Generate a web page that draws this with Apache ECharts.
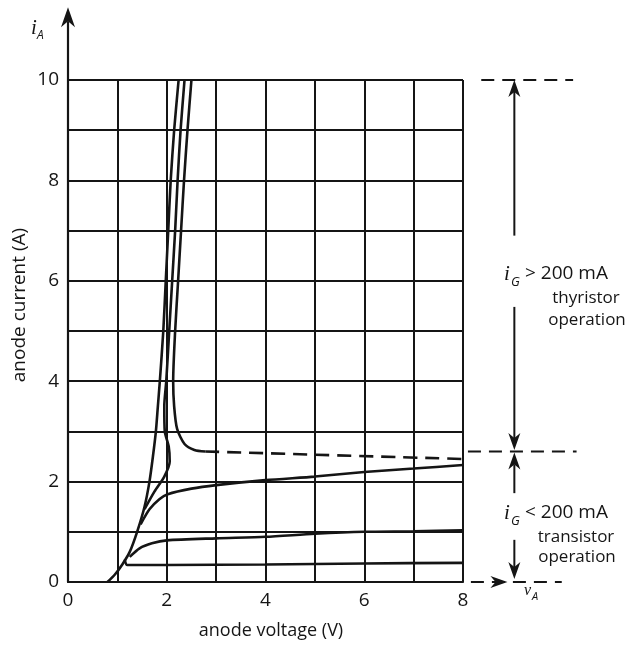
<!DOCTYPE html>
<html>
<head>
<meta charset="utf-8">
<script src="https://cdn.jsdelivr.net/npm/echarts@6/dist/echarts.min.js"></script>
<style>
html,body{margin:0;padding:0;background:#fff}
#chart{width:629px;height:646px}
</style>
</head>
<body>
<div id="chart"></div>
<script>
// anode voltage v_A (V) vs anode current i_A (A)

// thyristor branches (large gate current)
var thyLeft  = [[0.8,0],[0.95,0.15],[1.1,0.35],[1.25,0.6],[1.4,1.0],[1.55,1.5],[1.65,2.0],[1.72,2.5],[1.78,3.0],[1.82,3.5],[1.86,4],[1.93,5],[1.98,6],[2.03,7],[2.08,8],[2.15,9],[2.24,10]];
var thyMid   = [[1.55,1.45],[1.75,1.8],[1.95,2.1],[2.06,2.4],[2.04,2.7],[1.96,3.0],[1.95,3.5],[1.99,4],[2.05,5],[2.11,6],[2.17,7],[2.22,8],[2.28,9],[2.36,10]];
var thyRight = [[2.5,10],[2.42,9],[2.35,8],[2.29,7],[2.23,6],[2.17,5],[2.13,4],[2.15,3.5],[2.21,3.05],[2.36,2.75],[2.56,2.63],[2.78,2.6]];
var holding  = [[2.78,2.6],[8,2.45]];

// transistor curves (small gate current)
var tr3 = [[1.47,1.15],[1.65,1.45],[1.85,1.65],[2.02,1.75],[2.5,1.86],[3,1.93],[4,2.03],[5,2.1],[6,2.19],[7,2.26],[8,2.33]];
var tr2 = [[1.25,0.5],[1.45,0.67],[1.7,0.77],[2,0.83],[3,0.87],[4,0.9],[5,0.96],[6,1.0],[7,1.01],[8,1.03]];
var tr1 = [[1.15,0.45],[1.2,0.34],[2,0.34],[4,0.35],[6,0.37],[8,0.38]];

// reference levels drawn to the right of the plot: [v from, i, v to, i]
var levels = [[8.37,10,10.23,10],[8.1,2.6,10.3,2.6],[8.16,0,10.0,0]];
// annotation arrows: [v, i from, v, i to]
var arrows = [[9.04,6.9,9.04,10],[9.04,5.48,9.04,2.63],[9.04,1.77,9.04,2.58],[9.04,0.84,9.04,0.06],[8.62,0,8.9,0]];
var axisArrow = [[0,10,0,11.45]];

var ink = '#151515';
var font = '"Open Sans", "DejaVu Sans", sans-serif';

function curve(data, dashed){
  return {
    type: 'line', data: data, showSymbol: false, smooth: 0.25,
    lineStyle: {color: ink, width: 2.6, type: dashed ? [14, 8] : 'solid'},
    silent: true, animation: false
  };
}

// straight segments, with or without an arrow head, placed through the axes
function segSeries(data, head, width, dash){
  return {
    type: 'custom', data: data, clip: false, silent: true, animation: false,
    renderItem: function(params, api){
      var p0 = api.coord([api.value(0), api.value(1)]);
      var p1 = api.coord([api.value(2), api.value(3)]);
      if (!head) {
        return {type:'line', shape:{x1:p0[0], y1:p0[1], x2:p1[0], y2:p1[1]},
          style:{stroke:ink, lineWidth:width, lineDash:dash}};
      }
      var len = head[0], half = head[1];
      var dx = p1[0]-p0[0], dy = p1[1]-p0[1];
      var d = Math.sqrt(dx*dx+dy*dy); var ux = dx/d, uy = dy/d;
      var bx = p1[0]-ux*len, by = p1[1]-uy*len;
      var nx = p1[0]-ux*len*0.7, ny = p1[1]-uy*len*0.7;
      return {type:'group', children:[
        {type:'line', shape:{x1:p0[0], y1:p0[1], x2:nx, y2:ny}, style:{stroke:ink, lineWidth:width}},
        {type:'polygon', shape:{points:[[p1[0],p1[1]],[bx-uy*half,by+ux*half],[nx,ny],[bx+uy*half,by-ux*half]]}, style:{fill:ink}}
      ]};
    }
  };
}

var series = [
  curve(thyLeft), curve(thyMid), curve(thyRight), curve(holding, true),
  curve(tr3), curve(tr2), curve(tr1),
  segSeries(levels, null, 2, [13, 8]),
  segSeries(arrows, [17, 6], 2),
  segSeries(axisArrow, [20, 7], 2.2)
];

function txt(text, x, y, f, align){
  return {type:'text', x:x, y:y, silent:true,
    style:{text:text, font:f, fill:ink, align:align||'left', verticalAlign:'middle'}};
}

var graphics = [
  txt('i', 31, 28, 'italic 21px "Liberation Serif", serif'),
  txt('A', 37, 36, 'italic 12px ' + font),
  {type:'text', x:20, y:305, rotation:Math.PI/2, silent:true,
    style:{text:'anode current (A)', font:'19px ' + font, fill:ink, align:'center', verticalAlign:'middle'}},
  txt('anode voltage (V)', 271, 631, '18px ' + font, 'center'),
  txt('v', 524, 591, 'italic 16px "Liberation Serif", serif'),
  txt('A', 532, 597, 'italic 11px ' + font),

  txt('i', 504, 274, 'italic 21px "Liberation Serif", serif'),
  txt('G', 511, 282, 'italic 13px ' + font),
  txt('> 200 mA', 525, 274, '19px ' + font),
  txt('thyristor', 586, 298, '17px ' + font, 'center'),
  txt('operation', 587, 320, '17px ' + font, 'center'),

  txt('i', 504, 513, 'italic 21px "Liberation Serif", serif'),
  txt('G', 511, 521, 'italic 13px ' + font),
  txt('< 200 mA', 525, 513, '19px ' + font),
  txt('transistor', 576, 537, '17px ' + font, 'center'),
  txt('operation', 577, 557, '17px ' + font, 'center')
];

function axis(max){
  return {
    type: 'value', min: 0, max: max, interval: 1,
    axisLine: {show: true, onZero: false, lineStyle: {color: ink, width: 2.2}},
    axisTick: {show: false},
    axisLabel: {color: ink, fontSize: 19, fontFamily: font, margin: 9,
      formatter: function(v){ return v % 2 === 0 ? String(v) : ''; }},
    splitLine: {show: true, lineStyle: {color: ink, width: 2}}
  };
}

var chart = echarts.init(document.getElementById('chart'));
chart.setOption({
  backgroundColor: '#fff',
  animation: false,
  grid: {left: 68, right: 166, top: 80, bottom: 64, containLabel: false},
  xAxis: axis(8),
  yAxis: axis(10),
  series: series,
  graphic: graphics
});
</script>
</body>
</html>
